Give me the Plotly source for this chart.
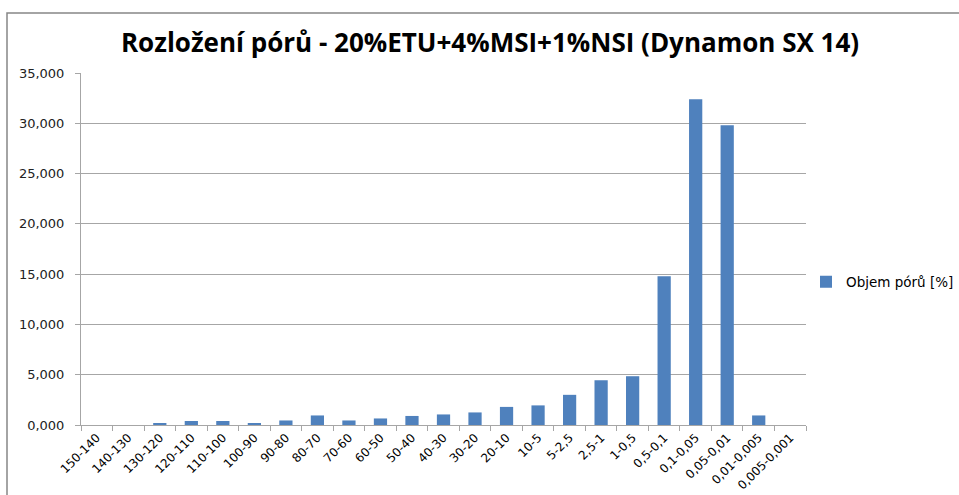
import plotly.graph_objects as go

categories = ["150-140", "140-130", "130-120", "120-110", "110-100", "100-90", "90-80",
              "80-70", "70-60", "60-50", "50-40", "40-30", "30-20", "20-10", "10-5",
              "5-2,5", "2,5-1", "1-0,5", "0,5-0,1", "0,1-0,05", "0,05-0,01",
              "0,01-0,005", "0,005-0,001"]
values = [0.0, 0.0, 0.15, 0.40, 0.40, 0.20, 0.45, 0.95, 0.45, 0.65, 0.90, 1.05, 1.25,
          1.80, 1.95, 3.00, 4.45, 4.85, 14.80, 32.40, 29.80, 0.95, 0.0]
series_name = "Objem pórů [%]"
title_text = "Rozložení pórů - 20%ETU+4%MSI+1%NSI (Dynamon SX 14)"
y_ticks = [0, 5, 10, 15, 20, 25, 30, 35]

W, H = 959, 495
L, R, T, B = 81, 153, 73, 70

fig = go.Figure()
fig.add_trace(go.Bar(x=categories, y=values, name=series_name,
                     marker=dict(color="#4F81BD", line=dict(width=0)),
                     showlegend=True))

fig.update_layout(
    width=W, height=H,
    margin=dict(l=L, r=R, t=T, b=B, autoexpand=False),
    paper_bgcolor="white", plot_bgcolor="white",
    separators=", ",
    bargap=0.58,
    font=dict(family="DejaVu Sans", size=12, color="#222222"),
    title=dict(text=title_text, x=0.511, xanchor="center", y=1 - 43 / H, yanchor="middle",
               xref="container", yref="container",
               font=dict(family="Open Sans", size=26, color="#000000", weight="bold")),
    legend=dict(x=1.0, y=0.406, xanchor="left", yanchor="middle",
                font=dict(family="DejaVu Sans", size=13.5, color="#000000"),
                itemwidth=30, bgcolor="rgba(0,0,0,0)"),
    showlegend=True,
)
fig.update_xaxes(type="category", tickangle=-45, showgrid=False,
                 showline=True, linecolor="#A6A6A6", linewidth=1,
                 ticks="outside", tickson="boundaries", ticklen=5, tickcolor="#A6A6A6",
                 tickfont=dict(family="DejaVu Sans", size=12, color="#000000"),
                 automargin=False)
fig.update_yaxes(range=[0, 35], tickvals=y_ticks, tickformat=".3f",
                 showgrid=True, gridcolor="#A6A6A6", gridwidth=1,
                 showline=True, linecolor="#A6A6A6", linewidth=1,
                 ticks="outside", ticklen=5, tickcolor="#A6A6A6",
                 ticklabelstandoff=8,
                 tickfont=dict(family="DejaVu Sans", size=13, color="#222222"),
                 zeroline=False, automargin=False)

# chart frame (top and left edges visible; right/bottom cropped)
fig.add_shape(type="rect", xref="paper", yref="paper",
              x0=(7 - L) / (W - L - R), x1=(W + 20 - L) / (W - L - R),
              y0=-(B + 20) / (H - T - B), y1=(H - 13 - B) / (H - T - B),
              line=dict(color="#868686", width=1.5), fillcolor="rgba(0,0,0,0)",
              layer="below")

fig.write_html("out.html", config={"displayModeBar": False},
               post_script="document.body.style.margin='0';document.body.style.overflow='hidden';")
